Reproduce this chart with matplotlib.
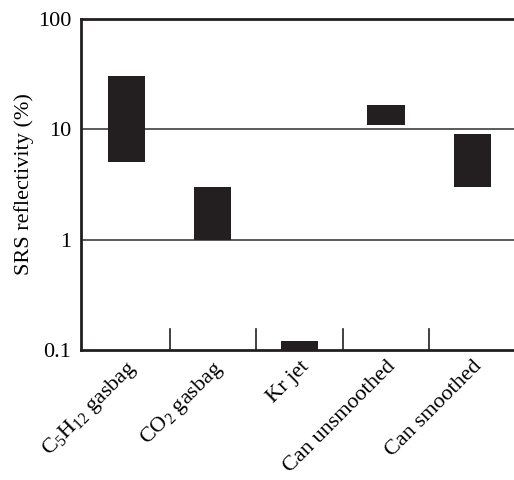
import numpy as np
import matplotlib
matplotlib.use("Agg")
import matplotlib.pyplot as plt

plt.rcParams['font.family'] = ['Liberation Serif', 'DejaVu Serif']
plt.rcParams['mathtext.default'] = 'regular'

# reflectivity ranges (%) for each target
labels = [r'C$_5$H$_{12}$ gasbag', r'CO$_2$ gasbag', 'Kr jet', 'Can unsmoothed', 'Can smoothed']
low = [5, 1, 0.1, 10.8, 3]
high = [30, 3, 0.12, 16.5, 9]

ink = '#231f20'

fig = plt.figure(figsize=(5.14, 4.80), dpi=100)
ax = fig.add_axes([0.158, 0.271, 0.842, 0.690])

x = np.arange(len(labels))
ax.bar(x, np.array(high) - np.array(low), bottom=low, width=0.43, color=ink, zorder=3)

ax.set_yscale('log')
ax.set_ylim(0.1, 100)
ax.set_xlim(-0.52, 4.48)

ax.set_yticks([0.1, 1, 10, 100])
ax.set_yticklabels(['0.1', '1', '10', '100'])
ax.minorticks_off()
ax.tick_params(axis='y', length=0, pad=7, labelsize=16)

# horizontal lines at 1 and 10
for yv in [1, 10]:
    ax.axhline(yv, color='#4d4d4d', lw=1.3, zorder=1)

# short separators between categories
for xs in x[:-1] + 0.5:
    ax.plot([xs, xs], [0.1, 0.155], color=ink, lw=1.2, clip_on=False)

ax.set_xticks(x)
ax.set_xticklabels(labels, rotation=45, ha='right', va='top', rotation_mode='anchor', fontsize=16)
ax.tick_params(axis='x', length=0, pad=5)

ax.set_ylabel('SRS reflectivity (%)', fontsize=16, labelpad=3)

for s in ['left', 'bottom', 'top']:
    ax.spines[s].set_color(ink)
    ax.spines[s].set_linewidth(2)
ax.spines['right'].set_visible(False)

plt.savefig('out.png', dpi=100)
